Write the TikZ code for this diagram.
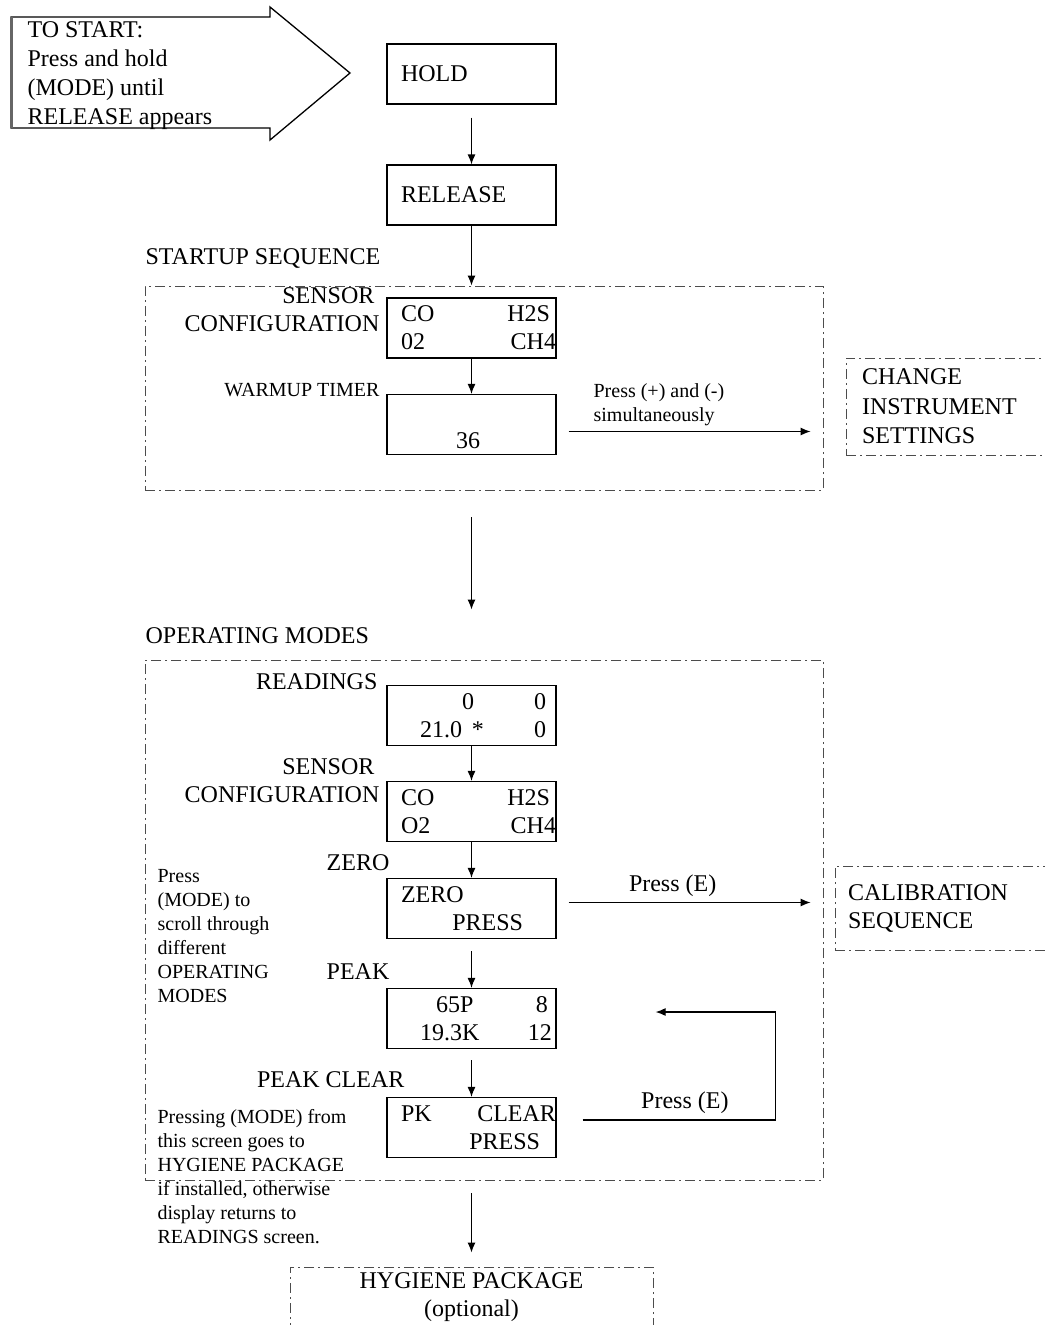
\documentclass[tikz,border=0pt]{standalone}
\usepackage{fontspec}
\setmainfont{Liberation Serif}
\usetikzlibrary{arrows.meta,calc}

\begin{document}
\begin{tikzpicture}[
        %Environment config
        x=1pt, y=-1pt,
        font=\fontsize{24}{28}\selectfont,
        line width=1.2pt,
        %Environment styles
        ScreenCfg/.style={
            draw,
            minimum width=169pt,
            minimum height=60pt,
            inner xsep=14pt,
            text width=141pt,
            align=left
        },
        GroupCfg/.style={
            draw=black!70,
            line width=0.9pt,
            dash pattern=on 10pt off 4pt on 2pt off 4pt
        },
        TitleCfg/.style={anchor=east, align=right, inner sep=0pt},
        NoteCfg/.style={anchor=north west, align=left, inner sep=0pt,
            font=\fontsize{20}{24}\selectfont},
        FlowCfg/.style={-{Latex[length=10pt,width=8pt]}}
    ]
    \useasboundingbox (0,0) rectangle (1044,1325);

    %start arrow
    \draw[line width=1.3pt] (11,17) -- (270,17) -- (270,7) -- (350,73)
        -- (270,140) -- (270,128) -- (11,128) -- cycle;
    \draw[line width=2.5pt, black!60] (11.5,17) -- (11.5,128);

    \path
        (27,21) node[anchor=north west, align=left, inner sep=0pt,
            font=\fontsize{24}{29}\selectfont](START){TO START:\\Press and hold\\(MODE) until\\RELEASE appears}
        (471.5,74) node[ScreenCfg](HOLD){HOLD}
        (471.5,195) node[ScreenCfg](RELEASE){RELEASE}
        %startup sequence
        (484,388) node[GroupCfg, minimum width=678pt, minimum height=204pt](STARTUP){}
        (145,258) node[anchor=west, inner sep=0pt](STARTUPLbl){STARTUP SEQUENCE}
        (471.5,328) node[ScreenCfg](SENS1){CO\hfill H2S\kern-8pt\\02\hfill CH4\kern-14pt}
        (380,310) node[TitleCfg](SENS1Lbl){SENSOR\kern5pt\\CONFIGURATION}
        (471.5,424.5) node[ScreenCfg](TIMER){\strut\\\hspace*{55pt}36}
        (380,390) node[TitleCfg, font=\fontsize{20}{24}\selectfont](TIMERLbl){WARMUP TIMER}
        (593,383) node[NoteCfg](SETLbl){Press (+) and (-)\\simultaneously}
        (954,406.5) node[GroupCfg, minimum width=216pt, minimum height=97pt, inner xsep=16pt,
            text width=184pt, align=left, font=\fontsize{24}{29.5}\selectfont](CHANGE){CHANGE\\INSTRUMENT\\SETTINGS}
        %operating modes
        (484,920) node[GroupCfg, minimum width=678pt, minimum height=520pt](OPER){}
        (145,636) node[anchor=west, inner sep=0pt](OPERLbl){OPERATING MODES}
        (471.5,715.5) node[ScreenCfg](READ){\hspace*{61pt}0\hfill 0\kern-4pt\\\hspace*{19pt}21.0\hspace{10pt}*\hfill 0\kern-4pt}
        (378,682) node[TitleCfg](READLbl){READINGS}
        (471.5,811.5) node[ScreenCfg](SENS2){CO\hfill H2S\kern-8pt\\O2\hfill CH4\kern-14pt}
        (380,781) node[TitleCfg](SENS2Lbl){SENSOR\kern5pt\\CONFIGURATION}
        (471.5,908.5) node[ScreenCfg](ZERO){ZERO\\\hfill PRESS\kern19pt}
        (390,863) node[TitleCfg](ZEROLbl){ZERO}
        (471.5,1018.5) node[ScreenCfg](PEAK){\hspace*{35pt}65P\hfill 8\kern-6pt\\\hspace*{19pt}19.3K\hfill 12\kern-10pt}
        (390,972) node[TitleCfg](PEAKLbl){PEAK}
        (471.5,1127.5) node[ScreenCfg](CLEAR){PK\hfill CLEAR\kern-14pt\\\hfill PRESS\kern2pt}
        (405,1080) node[TitleCfg](CLEARLbl){PEAK CLEAR}
        (948.5,908) node[GroupCfg, minimum width=227pt, minimum height=84pt, inner xsep=13pt,
            text width=201pt, align=left](CALIB){CALIBRATION\\SEQUENCE}
        (157,869) node[NoteCfg](NOTE1){Press\\(MODE) to\\scroll through\\different\\OPERATING\\MODES}
        (157,1109) node[NoteCfg](NOTE2){Pressing (MODE) from\\this screen goes to\\HYGIENE PACKAGE\\if installed, otherwise\\display returns to\\READINGS screen.}
        %hygiene package
        (471.5,1306) node[GroupCfg, minimum width=363pt, minimum height=78pt](HYG){}
        (471.5,1272) node[anchor=north, align=center, inner sep=0pt](HYGLbl){HYGIENE PACKAGE\\(optional)};

    \draw[FlowCfg, shorten <=13pt] (HOLD) -- (RELEASE);
    \draw[FlowCfg] (RELEASE) -- (RELEASE |- STARTUP.north);
    \draw[FlowCfg] (SENS1) -- (TIMER);
    \draw[FlowCfg] ([xshift=12pt,yshift=-7pt]TIMER.east) -- ++(242,0);
    \draw[FlowCfg, shorten <=27pt, shorten >=50pt] (HOLD |- STARTUP.south) -- (HOLD |- OPER.north);

    \draw[FlowCfg] (READ) -- (SENS2);
    \draw[FlowCfg] (SENS2) -- (ZERO);
    \draw[FlowCfg, shorten <=12pt] (ZERO) -- (PEAK);
    \draw[FlowCfg, shorten <=11pt] (PEAK) -- (CLEAR);
    \draw[FlowCfg] ([xshift=12pt,yshift=6pt]ZERO.east)
        -- node[above=2pt, pos=0.43]{Press (E)} ++(242,0);
    \draw[FlowCfg] ([xshift=26pt,yshift=7.5pt]CLEAR.east)
        -- node[above=2pt, pos=0.53]{Press (E)} ++(193,0)
        |- ([xshift=99pt,yshift=6.5pt]PEAK.east);
    \draw[FlowCfg, shorten <=13pt, shorten >=14pt] (HOLD |- OPER.south) -- (HOLD |- HYG.north);

\end{tikzpicture}
\end{document}
